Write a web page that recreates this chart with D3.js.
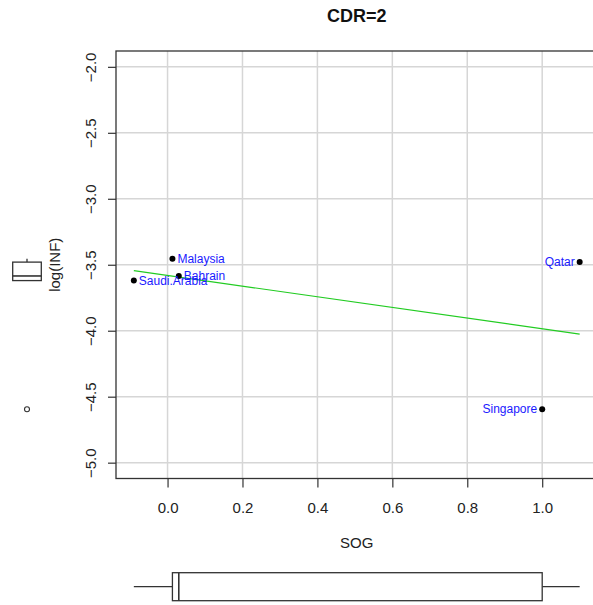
<!DOCTYPE html>
<html><head><meta charset="utf-8">
<script src="https://cdn.jsdelivr.net/npm/d3@7"></script>
<style>body{margin:0;background:#fff} svg{display:block}</style>
</head><body><svg id="c" width="593" height="605"></svg>
<script>
// ---- data ----
const countries = ["Saudi.Arabia", "Malaysia", "Bahrain", "Singapore", "Qatar"];
const sog = [-0.09, 0.013, 0.03, 1.0, 1.1];
const logInf = [-3.62, -3.455, -3.585, -4.595, -3.48];
const labelSide = ["right", "right", "right", "left", "left"];
const xTicks = [0, 0.2, 0.4, 0.6, 0.8, 1.0];
const yTicks = [-2, -2.5, -3, -3.5, -4, -4.5, -5];
const yLim = [-5, -2];
const title = "CDR=2", xLabel = "SOG", yLabel = "log(INF)";

// ---- layout ----
const FONT = "'Liberation Sans', Arial, Helvetica, sans-serif";
const svg = d3.select("#c");
const L = 116, R = 597.5, T = 51, B = 478.5;

const pad = (a, b) => { const d = (b - a) * 0.04; return [a - d, b + d]; };
const x = d3.scaleLinear().domain(pad(d3.min(sog), d3.max(sog))).range([L, R]);
const y = d3.scaleLinear().domain(pad(yLim[0], yLim[1])).range([B, T]);

// grid
const g = svg.append("g");
g.selectAll("line.gx").data(xTicks).join("line")
  .attr("x1", d => x(d)).attr("x2", d => x(d)).attr("y1", T).attr("y2", B)
  .attr("stroke", "#d6d6d6").attr("stroke-width", 1.5);
g.selectAll("line.gy").data(yTicks).join("line")
  .attr("y1", d => y(d)).attr("y2", d => y(d)).attr("x1", L).attr("x2", R)
  .attr("stroke", "#d6d6d6").attr("stroke-width", 1.5);

// axes
const fmt = d3.format(".1f");
const xa = svg.append("g").attr("transform", `translate(0,${B})`)
  .call(d3.axisBottom(x).tickValues(xTicks).tickFormat(fmt).tickSize(9).tickPadding(15));
const ya = svg.append("g").attr("transform", `translate(${L},0)`)
  .call(d3.axisLeft(y).tickValues(yTicks).tickFormat(fmt).tickSize(8));
[xa, ya].forEach(a => {
  a.select(".domain").remove();
  a.selectAll(".tick line").attr("stroke", "#333").attr("stroke-width", 1.2);
  a.selectAll(".tick text").attr("font-family", FONT).attr("font-size", 15).attr("fill", "#222");
});
ya.selectAll(".tick text")
  .attr("x", null).attr("dy", null)
  .attr("text-anchor", "middle")
  .attr("transform", "translate(-20,0) rotate(-90)");

// frame
svg.append("rect").attr("x", L).attr("y", T).attr("width", R - L).attr("height", B - T)
  .attr("fill", "none").attr("stroke", "#333").attr("stroke-width", 1.3);

// regression (least squares)
const mx = d3.mean(sog), my = d3.mean(logInf);
const sxy = d3.sum(sog, (v, i) => (v - mx) * (logInf[i] - my));
const sxx = d3.sum(sog, v => (v - mx) ** 2);
const slope = sxy / sxx, icpt = my - slope * mx;
const [x0, x1] = d3.extent(sog);
svg.append("line")
  .attr("x1", x(x0)).attr("y1", y(icpt + slope * x0))
  .attr("x2", x(x1)).attr("y2", y(icpt + slope * x1))
  .attr("stroke", "#22cc22").attr("stroke-width", 1.2);

// points + labels
const pts = countries.map((c, i) => ({ c, x: sog[i], y: logInf[i], s: labelSide[i] }));
svg.selectAll("circle.p").data(pts).join("circle")
  .attr("cx", d => x(d.x)).attr("cy", d => y(d.y)).attr("r", 3).attr("fill", "#000");
svg.selectAll("text.lab").data(pts).join("text")
  .attr("x", d => x(d.x) + (d.s === "right" ? 5 : -5))
  .attr("y", d => y(d.y)).attr("dy", "0.35em")
  .attr("text-anchor", d => d.s === "right" ? "start" : "end")
  .attr("font-family", FONT).attr("font-size", 12).attr("fill", "#1a1aff")
  .text(d => d.c);

// titles
svg.append("text").attr("x", (L + R) / 2).attr("y", 22).attr("text-anchor", "middle")
  .attr("font-family", FONT).attr("font-size", 18).attr("font-weight", "bold").attr("fill", "#111")
  .text(title);
svg.append("text").attr("x", (L + R) / 2).attr("y", 548).attr("text-anchor", "middle")
  .attr("font-family", FONT).attr("font-size", 15).attr("fill", "#222").text(xLabel);
svg.append("text").attr("transform", `translate(60,${(T + B) / 2}) rotate(-90)`)
  .attr("text-anchor", "middle")
  .attr("font-family", FONT).attr("font-size", 15).attr("fill", "#222").text(yLabel);

// boxplot stats (R fivenum + 1.5 IQR whiskers)
function boxStats(arr) {
  const s = arr.slice().sort(d3.ascending), n = s.length;
  const n4 = Math.floor((n + 3) / 2) / 2;
  const idx = [1, n4, (n + 1) / 2, n + 1 - n4, n];
  const f = idx.map(d => 0.5 * (s[Math.floor(d) - 1] + s[Math.ceil(d) - 1]));
  const iqr = f[3] - f[1];
  const lo = f[1] - 1.5 * iqr, hi = f[3] + 1.5 * iqr;
  const inside = s.filter(v => v >= lo && v <= hi);
  return { q1: f[1], med: f[2], q3: f[3], wlo: d3.min(inside), whi: d3.max(inside),
           out: s.filter(v => v < lo || v > hi) };
}
const bs = "#333", bw = 1.3;

// bottom horizontal boxplot of SOG
{
  const st = boxStats(sog), yt = 572.7, yb = 600.7, yc = (yt + yb) / 2;
  const bg = svg.append("g");
  bg.append("line").attr("x1", x(st.wlo)).attr("x2", x(st.q1)).attr("y1", yc).attr("y2", yc).attr("stroke", bs).attr("stroke-width", bw);
  bg.append("line").attr("x1", x(st.q3)).attr("x2", x(st.whi)).attr("y1", yc).attr("y2", yc).attr("stroke", bs).attr("stroke-width", bw);
  bg.append("rect").attr("x", x(st.q1)).attr("y", yt).attr("width", x(st.q3) - x(st.q1)).attr("height", yb - yt)
    .attr("fill", "#fff").attr("stroke", bs).attr("stroke-width", bw);
  bg.append("line").attr("x1", x(st.med)).attr("x2", x(st.med)).attr("y1", yt).attr("y2", yb).attr("stroke", bs).attr("stroke-width", 1.6);
  bg.selectAll("circle").data(st.out).join("circle").attr("cx", d => x(d)).attr("cy", yc).attr("r", 2.5)
    .attr("fill", "none").attr("stroke", bs);
}
// left vertical boxplot of log(INF)
{
  const st = boxStats(logInf), xl = 12.7, xr = 41.3, xc = (xl + xr) / 2;
  const bg = svg.append("g");
  bg.append("line").attr("y1", y(st.wlo)).attr("y2", y(st.q1)).attr("x1", xc).attr("x2", xc).attr("stroke", bs).attr("stroke-width", bw);
  bg.append("line").attr("y1", y(st.q3)).attr("y2", y(st.whi)).attr("x1", xc).attr("x2", xc).attr("stroke", bs).attr("stroke-width", bw);
  bg.append("rect").attr("x", xl).attr("y", y(st.q3)).attr("width", xr - xl).attr("height", y(st.q1) - y(st.q3))
    .attr("fill", "#fff").attr("stroke", bs).attr("stroke-width", bw);
  bg.append("line").attr("y1", y(st.med)).attr("y2", y(st.med)).attr("x1", xl).attr("x2", xr).attr("stroke", bs).attr("stroke-width", 1.6);
  bg.selectAll("circle").data(st.out).join("circle").attr("cx", xc).attr("cy", d => y(d)).attr("r", 2.5)
    .attr("fill", "none").attr("stroke", bs).attr("stroke-width", 1.1);
}
</script></body></html>
